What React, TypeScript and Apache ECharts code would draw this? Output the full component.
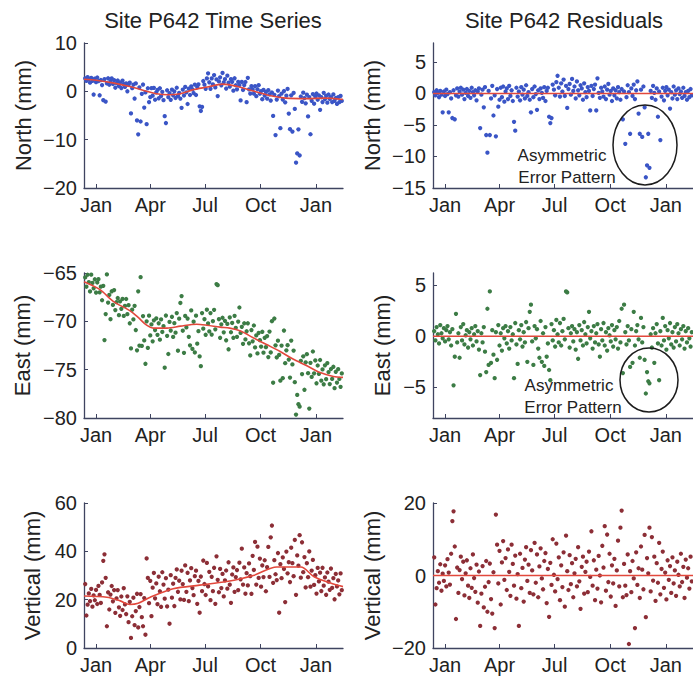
import React, { useEffect, useRef } from "react";
import * as echarts from "echarts";

// ---- time axis (days from 1 Jan) ----
const X_MIN = -20;
const X_MAX = 410;
const TICK_DAYS = [0, 90, 181, 273, 365];
const TICK_LABELS = ["Jan", "Apr", "Jul", "Oct", "Jan"];
const FIRST_DAY = -18; // observations every 2 days
const DAY_STEP = 2;

// ---- fitted trends: [day, mm] ----
const NORTH_TREND = [
  [-20, 2.5], [0, 2.3], [30, 1.7], [56, 1.0], [84, 0.0], [100, -0.5], [120, -0.7],
  [140, -0.5], [160, 0.3], [185, 0.9], [210, 1.5], [235, 1.0], [260, 0.1],
  [290, -0.9], [315, -1.4], [350, -1.5], [380, -1.4], [410, -1.7],
];
const EAST_TREND = [
  [-20, -65.9], [6, -66.7], [28, -67.9], [56, -68.9], [70, -69.6], [84, -70.4],
  [95, -70.7], [118, -70.7], [140, -70.5], [167, -70.3], [184, -70.4], [206, -70.6],
  [222, -70.7], [240, -71.0], [261, -71.7], [283, -72.4], [305, -73.1], [327, -73.9],
  [350, -74.6], [372, -75.3], [394, -75.7], [410, -75.8],
];
const VERT_TREND = [
  [-20, 21.5], [18, 21.0], [40, 19.5], [56, 18.0], [70, 18.5], [90, 21.0],
  [128, 24.5], [172, 26.0], [217, 27.5], [261, 30.0], [300, 33.5], [322, 33.5],
  [340, 33.5], [362, 29.5], [394, 26.5], [410, 25.4],
];

const NORTH_RESID = [
  0.2, -0.3, 0.5, 0.1, -0.6, 0.4, -0.2, -3.0, 0.3, -0.4,
  0.6, -0.1, -3.0, 0.2, -0.8, -3.9, 0.5, -4.1, -0.3, 0.8,
  -0.5, 0.3, 0.9, -0.2, 0.6, -0.9, 0.1, 0.7, -0.4, 0.4,
  -0.7, 0.9, 0.2, -0.3, 0.5, -1.1, 0.3, 0.8, -5.5, -0.2,
  0.6, -2.2, 1.0, -6.6, -9.4, 0.4, -6.6, -0.8, 1.2, -3.5,
  -0.3, -6.8, 0.7, -2.1, -1.0, 0.9, -0.6, 1.1, -1.3, 0.3,
  0.8, -0.9, 1.2, -0.4, 0.5, -1.2, -4.5, -5.9, 0.9, -0.5,
  0.3, -1.1, 1.0, -0.2, 0.6, -0.8, 1.3, -0.4, 0.2, -1.0,
  -3.0, 0.7, -0.6, 1.1, -0.1, -2.6, 0.5, -0.9, 0.8, 0.1,
  -0.7, 1.0, -1.2, 0.4, 0.9, -3.7, -4.7, -3.9, 1.4, 0.6,
  -0.3, 1.8, 2.8, 0.9, -0.5, 1.6, 0.3, 2.2, -0.4, 1.2,
  -2.3, 0.7, 1.5, -0.2, 2.3, 0.4, 1.1, -0.8, 1.9, 0.5,
  -0.3, 1.3, 0.8, -1.0, 1.6, 0.2, -0.6, 1.0, 0.4, -2.7,
  1.2, -0.4, 0.7, 1.4, -2.7, 2.4, 0.1, -0.7, 0.9, 0.3,
  -0.5, 1.1, -0.9, 0.6, 1.5, -0.2, 0.4, -1.2, 0.8, -0.3,
  0.5, -0.8, 1.0, 0.2, -1.0, 0.7, -4.1, 0.3, -8.0, -0.6,
  1.3, 0.2, -6.4, 0.8, -0.4, 1.4, -0.9, 0.5, 1.9, -3.2,
  -6.4, 0.6, -6.9, 1.1, -2.2, -13.3, -11.4, -6.4, -11.8, 0.4,
  -0.7, 1.2, 0.1, -1.0, 0.8, -3.7, 0.3, -7.4, -0.5, 0.9,
  -1.1, 0.4, 1.0, -0.3, 0.6, -2.4, 0.2, -0.8, 1.1, -0.2,
  0.5, -0.9, 0.8, -0.1, 0.3, -0.7, 0.9, -0.4, 0.2, -1.0,
  0.4, -0.6, 0.7, -0.3,
];
const EAST_RESID = [
  0.5, -0.4, 0.9, 0.2, -0.7, 1.1, 0.3, -0.2, 0.8, -0.5,
  0.6, 1.0, -0.3, 0.4, -0.9, 0.7, -4.8, -2.0, 2.2, -0.6,
  0.3, -2.1, 0.9, -0.4, 1.2, -0.8, 0.1, 0.6, -1.1, 0.4,
  -0.3, 0.8, -0.9, 0.2, 1.0, -0.5, 0.5, -1.3, -3.8, 0.3,
  -0.6, 0.9, -1.5, -3.5, 2.7, -2.8, 4.4, -2.6, 0.6, -1.8,
  -4.1, 0.4, -2.3, 1.1, -0.9, 0.3, -1.4, 0.8, -0.2, 1.0,
  -0.7, 0.5, -1.2, 0.9, -0.4, 0.2, -4.1, 1.3, -0.8, -2.7,
  0.6, -0.3, 1.1, -1.0, 0.4, -0.6, 1.4, -2.5, 0.8, 2.4,
  3.1, -0.5, -2.8, 1.0, -0.2, 0.7, -1.2, -2.1, 1.5, -2.5,
  0.3, -2.9, 0.9, -2.0, -0.7, -3.3, -4.3, 1.2, -0.4, 0.6,
  -1.0, 1.6, 0.2, -0.6, 1.3, -0.9, 0.5, 1.7, -0.3, 4.4,
  4.3, 0.8, -1.1, 0.3, 1.0, -0.5, 0.7, -1.3, 0.4, -2.2,
  1.1, -0.4, 0.6, -0.9, 1.4, 0.2, -0.7, 0.9, 2.4, -0.2,
  0.5, -1.2, 1.0, -0.6, 0.3, 1.2, -0.8, -2.0, 0.7, -0.4,
  1.3, -0.9, 0.4, -1.4, 0.8, 0.1, -0.5, 1.1, -1.0, 0.6,
  -0.3, 0.9, -1.2, 1.5, -0.6, 2.7, -3.6, 3.1, 0.4, -0.8,
  1.0, -0.4, -3.0, 0.7, -2.6, 2.4, -0.9, 0.5, 1.1, -0.3,
  -2.1, 1.8, -0.6, 0.9, -2.3, -5.6, -3.5, -4.4, -4.6, 0.2,
  -1.1, 0.8, -2.6, 0.3, 1.2, -0.7, -4.3, 0.5, -0.9, 1.8,
  -0.4, 1.0, -1.3, 0.6, -0.2, 1.3, -0.8, 0.4, -1.1, 0.9,
  -0.5, 1.2, 0.3, -0.9, 0.7, -0.3, 1.0, -1.2, 0.5, -0.6,
  0.8, -0.2, -1.0, 0.4,
];
const VERT_RESID = [
  5.0, -8.0, -3.5, 1.2, -2.0, 3.1, -4.2, 0.5, -1.5, 2.8,
  -3.0, 4.5, 0.8, -2.5, 6.0, 15.0, 17.7, 8.0, -12.0, 2.2,
  -4.8, 1.5, 5.2, -1.0, 3.8, -5.5, 0.6, 4.2, -2.8, -6.2,
  2.0, -3.4, 5.8, -0.7, -4.5, 3.0, -7.5, 1.1, -13.9, -5.0,
  2.6, -8.8, -3.1, 4.0, -10.0, -1.8, 3.3, -6.5, -10.5, 0.9,
  -14.5, 16.8, 8.5, -2.2, 6.8, -8.0, 3.6, 9.5, -1.2, 4.8,
  -4.0, 7.2, 1.0, -5.6, 8.5, 3.2, -2.8, 5.5, -6.4, 0.4,
  -13.9, 6.0, -3.5, 2.1, -7.2, 4.4, 7.8, -1.5, 3.0, -4.8,
  7.0, 1.4, -5.2, 9.0, -2.0, 5.8, -6.0, 2.5, 7.5, -0.8,
  -3.8, 4.0, 6.2, -7.6, 1.8, -11.4, 3.5, -2.6, 10.0, 0.2,
  -4.4, 8.8, -1.0, 5.0, -6.8, 2.8, -3.2, 6.4, -8.6, 11.0,
  1.2, -4.0, 5.6, -2.4, 3.4, -6.0, 0.6, 4.6, -3.0, 7.8,
  -1.6, -9.2, 2.4, 5.2, -5.0, 1.0, 3.8, -4.6, 6.6, -0.4,
  12.2, -2.8, 4.2, -6.8, 1.6, -3.6, 5.4, 0.0, -7.4, 8.2,
  2.2, 13.6, -4.2, 11.3, -1.8, 6.0, -5.8, 2.8, -2.2, 4.6,
  -8.4, 1.4, 9.6, -3.0, 13.2, 17.9, -6.0, 3.2, -2.8, -5.4,
  5.8, -18.9, 1.2, -4.6, 4.0, -0.8, -14.5, 6.4, -2.6, 2.0,
  -6.2, 8.0, 1.6, -3.8, 11.2, -11.5, 4.8, 0.6, 13.2, -4.4,
  10.6, -1.4, 5.2, -7.0, 3.4, -2.0, 9.0, -5.2, 1.8, 6.6,
  -3.4, 0.8, -6.6, 4.2, -1.2, 2.6, -4.8, 5.0, -2.2, 1.4,
  -5.6, 3.8, 0.2, -3.0, 6.0, -1.8, 2.4, -6.2, 4.4, -0.6,
  2.0, -3.6, 5.2, -1.6,
];

// ---- y tick values per panel ----
const NORTH_TS_TICKS = [-20, -10, 0, 10];
const NORTH_RES_TICKS = [-15, -10, -5, 0, 5];
const EAST_TS_TICKS = [-80, -75, -70, -65];
const EAST_RES_TICKS = [-5, 0, 5];
const VERT_TS_TICKS = [0, 20, 40, 60];
const VERT_RES_TICKS = [-20, 0, 20];

const FONT = '"Liberation Sans", Arial, Helvetica, sans-serif';
const AXIS_COLOR = "#3f4460";
const TEXT_COLOR = "#222222";
const RED = "#e2483c";

function trendAt(knots: number[][], d: number): number {
  for (let k = 0; k < knots.length - 1; k++) {
    const [d0, v0] = knots[k];
    const [d1, v1] = knots[k + 1];
    if (d >= d0 && d <= d1) return v0 + ((v1 - v0) * (d - d0)) / (d1 - d0);
  }
  return d < knots[0][0] ? knots[0][1] : knots[knots.length - 1][1];
}

function dayOf(i: number) {
  return FIRST_DAY + DAY_STEP * i;
}

function tsPoints(resid: number[], knots: number[][]) {
  return resid.map((r, i) => {
    const d = dayOf(i);
    return [d, +(trendAt(knots, d) + r).toFixed(2)];
  });
}
function residPoints(resid: number[]) {
  return resid.map((r, i) => [dayOf(i), r]);
}

function fmtNum(v: number) {
  return v < 0 ? "\u2212" + Math.abs(v) : String(v);
}

export default function App() {
  const ref = useRef<HTMLDivElement>(null);
  useEffect(() => {
    if (!ref.current) return;
    const chart = echarts.init(ref.current, null, { renderer: "svg" });

    const grids = [
      { left: 84, top: 43, width: 259, height: 145 },
      { left: 433, top: 43, width: 264, height: 145 },
      { left: 84, top: 273, width: 259, height: 145 },
      { left: 433, top: 273, width: 264, height: 145 },
      { left: 84, top: 503, width: 259, height: 145 },
      { left: 433, top: 503, width: 264, height: 145 },
    ];

    const xAxes = grids.map((_, gi) => ({
      type: "value",
      gridIndex: gi,
      min: X_MIN,
      max: X_MAX,
      axisLine: { show: true, onZero: false, lineStyle: { color: AXIS_COLOR, width: 1.3 } },
      axisTick: { show: true, inside: true, length: 4, customValues: TICK_DAYS, lineStyle: { color: AXIS_COLOR } },
      axisLabel: {
        show: true,
        customValues: TICK_DAYS,
        margin: 7,
        fontSize: 20,
        fontFamily: FONT,
        color: TEXT_COLOR,
        formatter: (v: number) => {
          const k = TICK_DAYS.indexOf(v);
          return k >= 0 ? TICK_LABELS[k] : "";
        },
      },
      splitLine: { show: false },
    }));

    const yDefs = [
      { min: -20, max: 10, ticks: NORTH_TS_TICKS, name: "North (mm)", gap: 50 },
      { min: -15, max: 8, ticks: NORTH_RES_TICKS, name: "North (mm)", gap: 50 },
      { min: -80, max: -65, ticks: EAST_TS_TICKS, name: "East (mm)", gap: 51 },
      { min: -8, max: 6.2, ticks: EAST_RES_TICKS, name: "East (mm)", gap: 40 },
      { min: 0, max: 60, ticks: VERT_TS_TICKS, name: "Vertical (mm)", gap: 41 },
      { min: -20, max: 20, ticks: VERT_RES_TICKS, name: "Vertical (mm)", gap: 50 },
    ];
    const yAxes = yDefs.map((y, gi) => ({
      type: "value",
      gridIndex: gi,
      min: y.min,
      max: y.max,
      name: y.name,
      nameLocation: "middle",
      nameGap: y.gap,
      nameRotate: 90,
      nameMoveOverlap: false,
      nameTextStyle: { fontSize: 22, fontFamily: FONT, color: TEXT_COLOR },
      axisLine: { show: true, onZero: false, lineStyle: { color: AXIS_COLOR, width: 1.3 } },
      axisTick: { show: true, inside: true, length: 4, customValues: y.ticks, lineStyle: { color: AXIS_COLOR } },
      axisLabel: {
        show: true,
        customValues: y.ticks,
        margin: 7,
        fontSize: 20,
        fontFamily: FONT,
        color: TEXT_COLOR,
        formatter: (v: number) => fmtNum(v),
      },
      splitLine: { show: false },
    }));

    const dot = (gi: number, data: number[][], color: string) => ({
      type: "scatter",
      xAxisIndex: gi,
      yAxisIndex: gi,
      data,
      symbol: "circle",
      symbolSize: 4.3,
      itemStyle: { color, opacity: 1 },
      silent: true,
    });
    const fit = (gi: number, data: number[][]) => ({
      type: "line",
      xAxisIndex: gi,
      yAxisIndex: gi,
      data,
      smooth: 0.3,
      showSymbol: false,
      lineStyle: { color: RED, width: 1.6 },
      silent: true,
    });
    const zero = [[X_MIN, 0], [X_MAX, 0]];

    const BLUE = "#3a55c6";
    const GREEN = "#3c7c45";
    const MAROON = "#8c2e36";

    const series = [
      dot(0, tsPoints(NORTH_RESID, NORTH_TREND), BLUE),
      fit(0, NORTH_TREND),
      dot(1, residPoints(NORTH_RESID), BLUE),
      fit(1, zero),
      dot(2, tsPoints(EAST_RESID, EAST_TREND), GREEN),
      fit(2, EAST_TREND),
      dot(3, residPoints(EAST_RESID), GREEN),
      fit(3, zero),
      dot(4, tsPoints(VERT_RESID, VERT_TREND), MAROON),
      fit(4, VERT_TREND),
      dot(5, residPoints(VERT_RESID), MAROON),
      fit(5, zero),
    ];

    const txt = (text: string, x: number, y: number, size: number) => ({
      type: "text",
      x,
      y,
      z: 100,
      style: {
        text,
        fontSize: size,
        fontFamily: FONT,
        fill: TEXT_COLOR,
        textAlign: "center",
        textVerticalAlign: "middle",
      },
    });
    const ell = (cx: number, cy: number, rx: number, ry: number) => ({
      type: "ellipse",
      z: 100,
      shape: { cx, cy, rx, ry },
      style: { fill: "none", stroke: "#1c1c1c", lineWidth: 1.5 },
    });

    chart.setOption({
      animation: false,
      backgroundColor: "#ffffff",
      grid: grids,
      xAxis: xAxes,
      yAxis: yAxes,
      series,
      graphic: [
        txt("Site P642 Time Series", 213, 20, 22),
        txt("Site P642 Residuals", 564, 20, 22),
        txt("Asymmetric", 562, 155, 17),
        txt("Error Pattern", 567, 177, 17),
        ell(645, 145, 32, 40),
        txt("Asymmetric", 569, 385, 17),
        txt("Error Pattern", 573, 407, 17),
        ell(649, 380, 29, 32),
      ],
    });
    return () => chart.dispose();
  }, []);

  return (
    <div
      ref={ref}
      style={{ position: "absolute", left: 0, top: 0, width: 693, height: 679, background: "#fff" }}
    />
  );
}
